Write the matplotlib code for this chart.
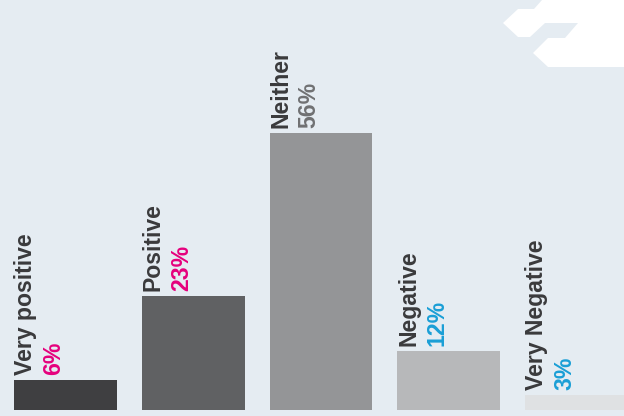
"""Bar chart of sentiment shares with rotated category and percentage labels."""

import matplotlib

matplotlib.use("Agg")
import matplotlib.pyplot as plt
from matplotlib.patches import Polygon

CATEGORIES = ["Very positive", "Positive", "Neither", "Negative", "Very Negative"]
SHARES = [6, 23, 56, 12, 3]
BAR_COLORS = ["#3f3f41", "#606163", "#949597", "#b7b8ba", "#dfe1e3"]
VALUE_COLORS = ["#e5007d", "#e5007d", "#707173", "#1a9fd6", "#1a9fd6"]

BG = "#e5ecf2"
TEXT_DARK = "#3a3a3c"
W, H = 624, 416

# white arrow-like corner mark, in figure pixels (y down)
CORNER_MARK = [(542, 0), (624, 0), (624, 67), (548, 67), (533, 53), (548, 38),
               (565, 38), (578, 23), (545, 23), (530, 37), (518, 37), (503, 23),
               (518, 9), (534, 9)]


def draw(path="out.png"):
    plt.rcParams["font.family"] = ["Liberation Sans", "DejaVu Sans"]
    fig = plt.figure(figsize=(W / 100, H / 100), dpi=100, facecolor=BG)
    ax = fig.add_axes([0, 0, 1, 1])
    ax.set_facecolor(BG)

    mark = Polygon([(x / W, 1 - y / H) for x, y in CORNER_MARK], closed=True,
                   facecolor="white", edgecolor="none",
                   transform=fig.transFigure, zorder=0)
    fig.add_artist(mark)

    width = 0.806
    xs = range(len(CATEGORIES))
    ax.bar(xs, SHARES, width=width, color=BAR_COLORS, zorder=2)

    for i, (name, v, vc) in enumerate(zip(CATEGORIES, SHARES, VALUE_COLORS)):
        left = i - width / 2
        ax.annotate(name, xy=(left, v), xytext=(0, 5), textcoords="offset pixels",
                    rotation=90, ha="left", va="bottom", fontsize=16.6,
                    fontweight="bold", color=TEXT_DARK, zorder=3)
        ax.annotate(f"{v}%", xy=(left, v), xytext=(28, 5),
                    textcoords="offset pixels", rotation=90, ha="left",
                    va="bottom", fontsize=16.6, fontweight="bold", color=vc,
                    zorder=3)

    px_per_unit = 4.946
    ax.set_xlim(-65.5 / 127.75, (W - 65.5) / 127.75)
    ax.set_ylim(-6 / px_per_unit, 410 / px_per_unit)
    ax.axis("off")

    fig.savefig(path, dpi=100, facecolor=BG)
    plt.close(fig)


if __name__ == "__main__":
    draw()
